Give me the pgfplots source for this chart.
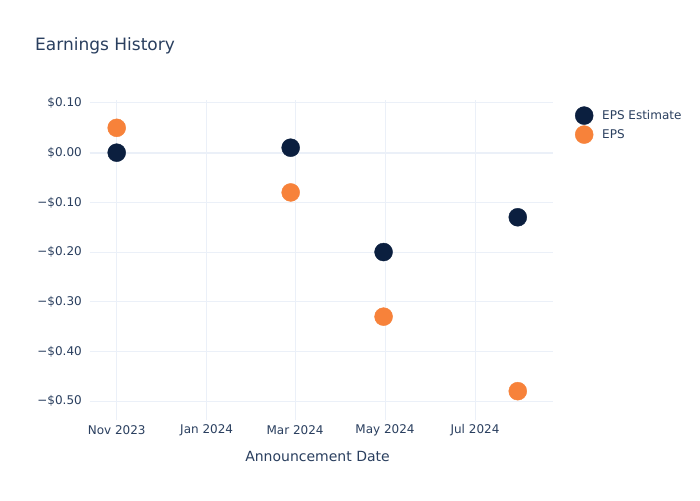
\documentclass[border=0pt]{standalone}
\usepackage{pgfplots}
\pgfplotsset{compat=1.18}
\usepackage{fontspec}
\setmainfont{DejaVu Sans}
\definecolor{txt}{HTML}{2A3F5F}
\definecolor{gridc}{HTML}{EBF0F8}
\definecolor{navy}{HTML}{0B1F3F}
\definecolor{org}{HTML}{F7823A}
\begin{document}
\begin{tikzpicture}[x=1pt,y=1pt]
\path[use as bounding box, fill=white] (-90,-80) rectangle (610,420);
\node[anchor=west, inner sep=0pt, text=txt, font=\fontsize{17}{20}\selectfont] at (-55,374) {Earnings History};
\begin{axis}[at={(0,0)}, anchor=south west, scale only axis,
  width=463pt, height=320pt,
  xmin=-18.1, xmax=295.9, ymin=-0.538, ymax=0.106,
  axis line style={draw=none}, tick style={draw=none},
  xtick={0,61,121,182,243},
  xticklabels={Nov 2023, Jan 2024, Mar 2024, May 2024, Jul 2024},
  ytick={-0.5,-0.4,-0.3,-0.2,-0.1,0,0.1},
  yticklabels={−\$0.50,−\$0.40,−\$0.30,−\$0.20,−\$0.10,\$0.00,\$0.10},
  grid=major, major grid style={draw=gridc, line width=1pt},
  ticklabel style={font=\fontsize{12}{14}\selectfont, text=txt},
  xticklabel style={anchor=center, yshift=-10pt},
  yticklabel style={anchor=east, inner sep=0pt, xshift=-8pt},
  xlabel={Announcement Date},
  xlabel style={at={(axis description cs:0.5,0)}, anchor=center, xshift=-4pt, yshift=-36pt, font=\fontsize{14}{16}\selectfont, text=txt},
  legend style={draw=none, fill=none, at={(1.0475,0.98)}, anchor=north west,
    font=\fontsize{12}{14}\selectfont, text=txt, inner sep=0pt, row sep=1pt,
    /tikz/every odd column/.append style={column sep=7pt}},
  legend cell align=left,
]
\addplot[draw=gridc, line width=2pt, forget plot] coordinates {(-18.1,0) (295.9,0)};
\addplot[only marks, mark=*, mark size=9pt, mark options={draw=navy, fill=navy}] coordinates {
  (0,0.00) (118,0.01) (181,-0.20) (272,-0.13)};
\addlegendentry{EPS Estimate}
\addplot[only marks, mark=*, mark size=9pt, mark options={draw=org, fill=org}] coordinates {
  (0,0.05) (118,-0.08) (181,-0.33) (272,-0.48)};
\addlegendentry{EPS}
\end{axis}
\end{tikzpicture}
\end{document}
